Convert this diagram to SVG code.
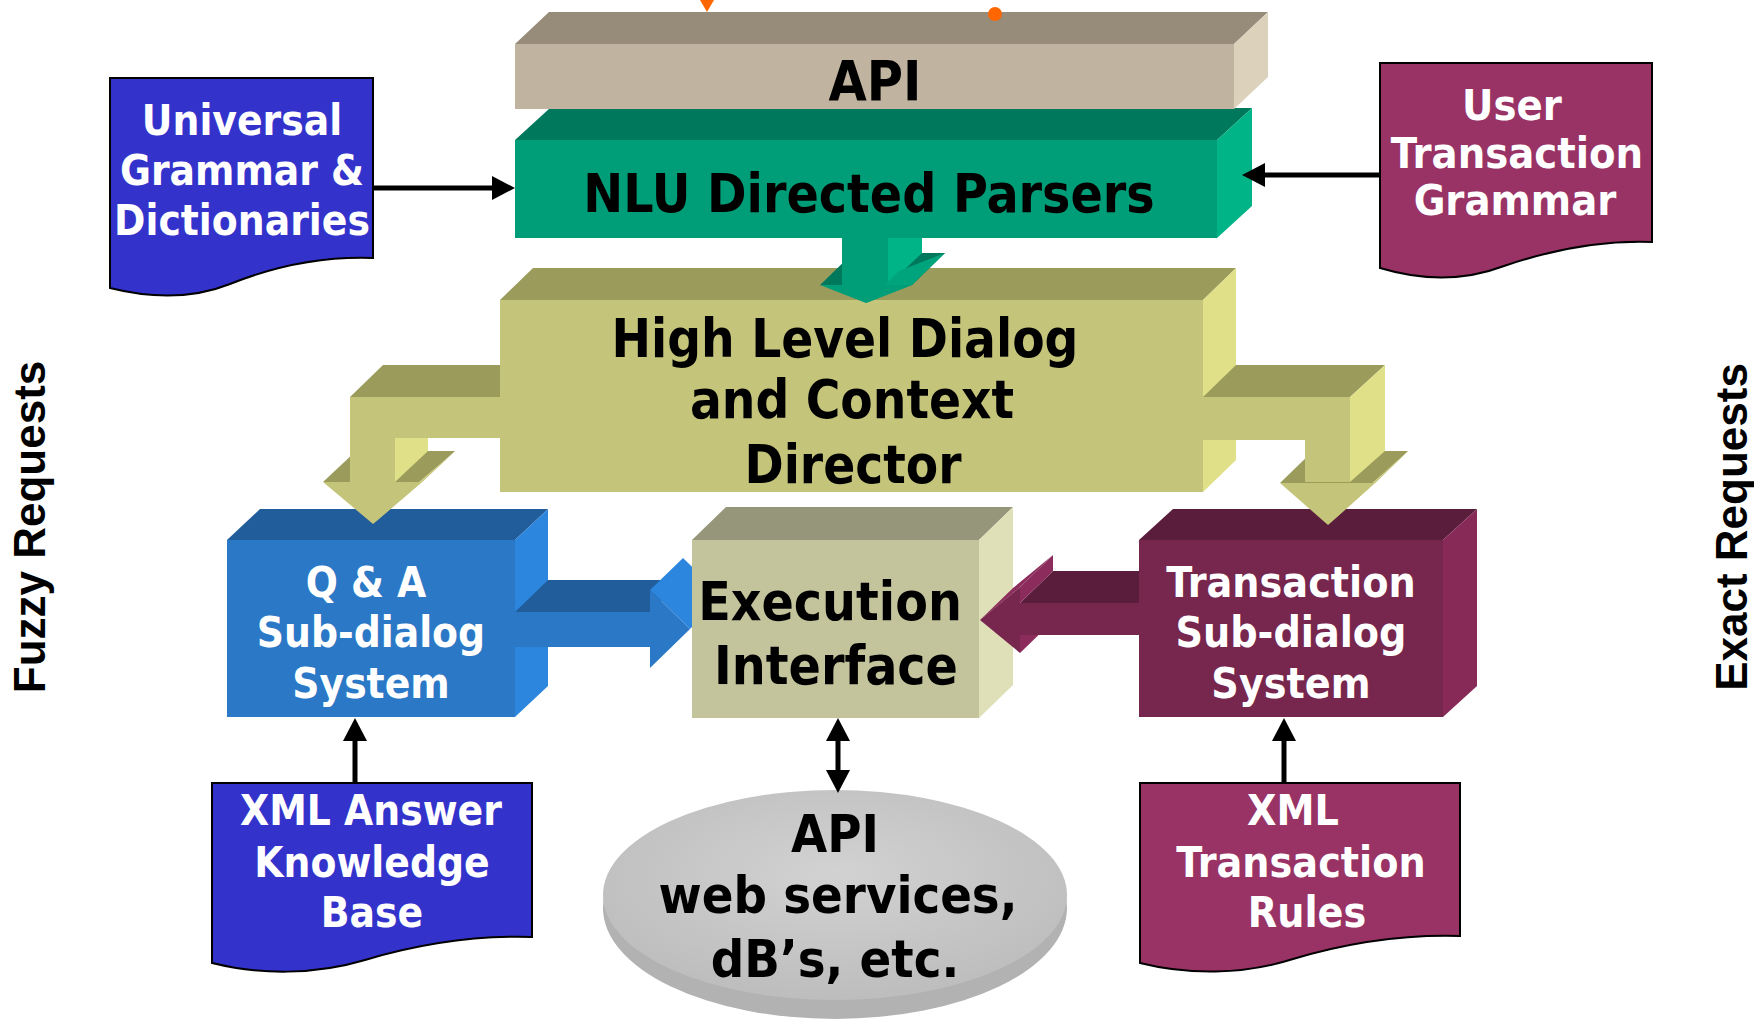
<svg xmlns="http://www.w3.org/2000/svg" width="1754" height="1024" viewBox="0 0 1754 1024">
<style>
.t{font-family:"DejaVu Sans Condensed","DejaVu Sans",sans-serif;font-weight:bold;text-anchor:middle}
.dk{fill:#000}
.wh{fill:#fff}
.side{font-family:"Liberation Sans",Arial,sans-serif;font-weight:bold;font-size:44px;fill:#000;text-anchor:middle}
.doc{stroke:#000;stroke-width:2}
.ln{stroke:#000;stroke-width:5;fill:none}
</style>
<defs>
<marker id="ah" markerUnits="userSpaceOnUse" markerWidth="24" markerHeight="24" refX="0" refY="12" orient="auto-start-reverse" viewBox="0 0 24 24">
<path d="M0,0 L23,12 L0,24 z" fill="#000"/>
</marker>
<radialGradient id="disk" cx="50%" cy="40%" r="60%">
<stop offset="0" stop-color="#d2d2d2"/>
<stop offset="1" stop-color="#bdbdbd"/>
</radialGradient>
<clipPath id="execclip"><rect x="0" y="0" width="692" height="1024"/></clipPath>
</defs>
<rect width="1754" height="1024" fill="#fff"/>

<g id="universal-grammar">
<path class="doc" fill="#3333cc" d="M110,78 H373 V258 C320,256 270,268 230,284 C190,300 150,298 110,288 Z"/>
<text class="t wh" font-size="42"><tspan x="242" y="135">Universal</tspan><tspan x="242" y="185">Grammar &amp;</tspan><tspan x="242" y="235">Dictionaries</tspan></text>
</g>

<g id="user-transaction-grammar">
<path class="doc" fill="#993366" d="M1380,63 H1652 V242 C1597,240 1545,252 1504,266 C1462,282 1420,280 1380,268 Z"/>
<text class="t wh" font-size="43"><tspan x="1512" y="120">User</tspan><tspan x="1517" y="168">Transaction</tspan><tspan x="1515" y="215">Grammar</tspan></text>
</g>

<g id="hld">
<polygon points="500,300 533,268 1236,268 1203,300" fill="#9b9b5c"/>
<polygon points="1203,300 1236,268 1236,460 1203,492" fill="#e0e088"/>
<rect x="500" y="300" width="703" height="192" fill="#c4c47a"/>
<text class="t dk" font-size="52.5"><tspan x="845" y="357">High Level Dialog</tspan><tspan x="852" y="418">and Context</tspan><tspan x="853" y="483">Director</tspan></text>
</g>

<g id="nlu">
<polygon points="515,140 550,108 1252,108 1217,140" fill="#00785c"/>
<polygon points="1217,140 1252,108 1252,206 1217,238" fill="#00b487"/>
<rect x="515" y="140" width="702" height="98" fill="#009e78"/>
<text class="t dk" x="869" y="212" font-size="53">NLU Directed Parsers</text>
</g>

<g id="api">
<polygon points="515,44 549,12 1268,12 1234,44" fill="#978c7a"/>
<polygon points="1234,44 1268,12 1268,77 1234,109" fill="#dcd2bc"/>
<rect x="515" y="44" width="719" height="65" fill="#c0b4a0"/>
<text class="t dk" x="875" y="100" font-size="55">API</text>
</g>

<g id="qa">
<polygon points="227,540 260,509 548,509 515,540" fill="#215d9a"/>
<polygon points="515,540 548,509 548,686 515,717" fill="#2d86dd"/>
<rect x="227" y="540" width="288" height="177" fill="#2a78c6"/>
<text class="t wh" font-size="42"><tspan x="366" y="597">Q &amp; A</tspan><tspan x="371" y="647">Sub-dialog</tspan><tspan x="371" y="698">System</tspan></text>
</g>

<g id="exec">
<polygon points="692,540 726,507 1013,507 979,540" fill="#96967a"/>
<polygon points="979,540 1013,507 1013,685 979,718" fill="#e0e0b8"/>
<rect x="692" y="540" width="287" height="178" fill="#c4c49c"/>
<text class="t dk" font-size="53"><tspan x="830" y="620">Execution</tspan><tspan x="836" y="684">Interface</tspan></text>
</g>

<g id="trans">
<polygon points="1139,540 1173,509 1477,509 1443,540" fill="#5b1d3c"/>
<polygon points="1443,540 1477,509 1477,686 1443,717" fill="#882a58"/>
<rect x="1139" y="540" width="304" height="177" fill="#77264e"/>
<text class="t wh" font-size="42.5"><tspan x="1291" y="597">Transaction</tspan><tspan x="1291" y="647">Sub-dialog</tspan><tspan x="1291" y="698">System</tspan></text>
</g>

<g id="xml-answer">
<path class="doc" fill="#3333cc" d="M212,783 H532 V937 C468,935 412,946 365,960 C315,975 260,975 212,963 Z"/>
<text class="t wh" font-size="42"><tspan x="371" y="825">XML Answer</tspan><tspan x="372" y="877">Knowledge</tspan><tspan x="372" y="927">Base</tspan></text>
</g>

<g id="xml-rules">
<path class="doc" fill="#993366" d="M1140,783 H1460 V936 C1396,934 1340,945 1293,959 C1243,975 1188,975 1140,963 Z"/>
<text class="t wh" font-size="42.5"><tspan x="1293" y="825">XML</tspan><tspan x="1301" y="877">Transaction</tspan><tspan x="1307" y="927">Rules</tspan></text>
</g>

<g id="api-services">
<ellipse cx="835" cy="908" rx="232" ry="111" fill="#b2b2b2"/>
<ellipse cx="835" cy="895" rx="232" ry="105" fill="url(#disk)"/>
<text class="t dk" font-size="52"><tspan x="835" y="852">API</tspan><tspan x="838" y="913">web services,</tspan><tspan x="835" y="977">dB’s, etc.</tspan></text>
</g>

<g id="fuzzy-label">
<text class="side" transform="translate(45,527) rotate(-90)">Fuzzy Requests</text>
</g>
<g id="exact-label">
<text class="side" transform="translate(1747,527) rotate(-90)">Exact Requests</text>
</g>

<g id="connectors">
<g id="arrow-hld-qa">
<polygon points="350,397 383,365 500,365 500,397" fill="#9b9b5c"/>
<polygon points="323,482 356,451 455,451 422,482" fill="#9b9b5c"/>
<polygon points="395,438 428,438 428,451 395,482" fill="#e0e088"/>
<polygon points="350,397 500,397 500,438 395,438 395,482 350,482" fill="#c4c47a"/>
<polygon points="422,482 455,451 406,493 373,524" fill="#cfcf86"/>
<polygon points="323,482 422,482 373,524" fill="#c4c47a"/>
</g>
<g id="arrow-hld-trans">
<polygon points="1203,397 1236,365 1385,365 1350,397" fill="#9b9b5c"/>
<polygon points="1280,483 1313,451 1408,451 1375,483" fill="#9b9b5c"/>
<polygon points="1350,397 1385,365 1385,451 1350,482" fill="#e0e088"/>
<polygon points="1203,397 1350,397 1350,482 1305,482 1305,440 1203,440" fill="#c4c47a"/>
<polygon points="1375,483 1408,451 1361,493 1328,525" fill="#cfcf86"/>
<polygon points="1280,483 1375,483 1328,525" fill="#c4c47a"/>
</g>
<g id="arrow-nlu-hld">
<polygon points="820,285 853,253 945,253 912,285" fill="#00785c"/>
<polygon points="888,238 922,238 922,253 888,285" fill="#00b487"/>
<rect x="842" y="238" width="46" height="47" fill="#009e78"/>
<polygon points="912,285 945,253 899,271 866,303" fill="#00a47c"/>
<polygon points="820,285 912,285 866,303" fill="#009e78"/>
</g>
<g id="arrow-qa-exec" clip-path="url(#execclip)">
<polygon points="515,612 548,580 683,580 650,612" fill="#215d9a"/>
<rect x="515" y="612" width="135" height="35" fill="#2a78c6"/>
<polygon points="650,590 683,558 723,597 690,629" fill="#2d86dd"/>
<polygon points="650,590 650,668 690,629" fill="#2a78c6"/>
</g>
<g id="arrow-trans-exec">
<polygon points="1020,603 1053,571 1139,571 1139,603" fill="#5b1d3c"/>
<polygon points="1020,587 1053,555 1053,571 1020,603" fill="#8c2c5c"/>
<polygon points="1020,635 1053,603 1053,621 1020,653" fill="#8c2c5c"/>
<rect x="1020" y="603" width="119" height="32" fill="#77264e"/>
<polygon points="980,620 1020,587 1053,555 1013,588" fill="#8c2c5c"/>
<polygon points="1020,587 1020,653 980,620" fill="#77264e"/>
</g>
<line class="ln" x1="373" y1="188" x2="492" y2="188" marker-end="url(#ah)"/>
<line class="ln" x1="1380" y1="175" x2="1265" y2="175" marker-end="url(#ah)"/>
<line class="ln" x1="355" y1="783" x2="355" y2="741" marker-end="url(#ah)"/>
<line class="ln" x1="1284" y1="783" x2="1284" y2="741" marker-end="url(#ah)"/>
<line class="ln" x1="838" y1="741" x2="838" y2="770" marker-start="url(#ah)" marker-end="url(#ah)"/>
</g>

<g id="marks">
<polygon points="700,0 714,0 707,12" fill="#ff6600"/>
<circle cx="995" cy="14" r="7" fill="#ff6600"/>
</g>
</svg>
